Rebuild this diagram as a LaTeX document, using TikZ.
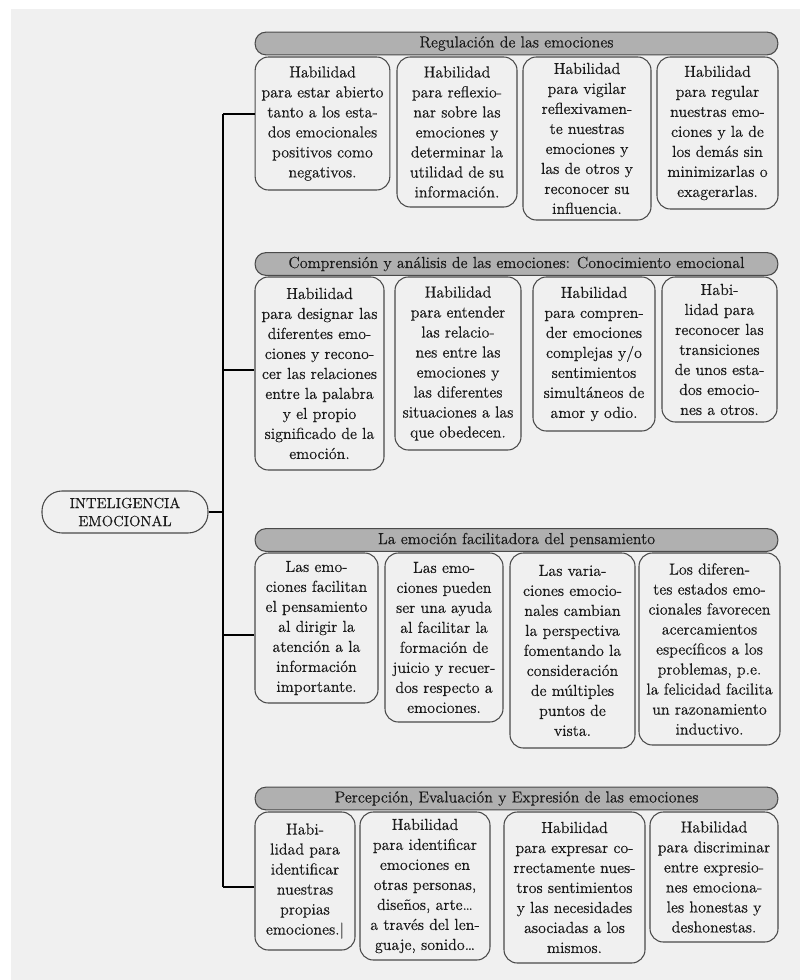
\documentclass[tikz,border=0pt]{standalone}
\usepackage{fontspec}
\setmainfont{Latin Modern Roman}[FakeBold=0.35]
\definecolor{bgc}{HTML}{F0F0F0}
\definecolor{bandfill}{HTML}{B0B0B0}
\definecolor{boxline}{HTML}{4A4A4A}
\definecolor{ink}{HTML}{1A1A1A}
\begin{document}
\begin{tikzpicture}[x=0.75pt,y=-0.75pt,
    box/.style={draw=boxline, line width=0.8pt, fill=bgc, rounded corners=10pt, align=center, inner sep=1pt, text=ink, font=\fontsize{12}{15}\selectfont},
    band/.style={draw=boxline, line width=0.8pt, fill=bandfill, rounded corners=8pt, minimum width=392pt, minimum height=17pt, inner sep=0pt, text=ink, font=\fontsize{12}{15}\selectfont},
    root/.style={draw=boxline, line width=0.8pt, fill=bgc, rounded corners=15pt, align=center, minimum width=124.5pt, minimum height=31.5pt, inner sep=0pt, text=ink, font=\fontsize{11}{13.5}\selectfont},
    trunk/.style={draw=black, line width=1.1pt}]
    \useasboundingbox (0,0) rectangle (800,980);
    \fill[white] (0,0) rectangle (800,980);
    \fill[bgc] (11,9) rectangle (800,980);

    \node[root] (emo) at (125,512) {INTELIGENCIA\\EMOCIONAL};

    \node[band] (h1) at (516.5,43.5) {Regulación de las emociones};
    \node[box, minimum width=101pt, minimum height=99.75pt] (r1a) at (322.5,123.5) {Habilidad\\para estar abierto\\tanto a los esta-\\dos emocionales\\positivos como\\negativos.};
    \node[box, minimum width=90pt, minimum height=112.5pt] (r1b) at (457,132) {Habilidad\\para reflexio-\\nar sobre las\\emociones y\\determinar la\\utilidad de su\\información.};
    \node[box, minimum width=96pt, minimum height=122.25pt] (r1c) at (587,138.5) {Habilidad\\para vigilar\\reflexivamen-\\te nuestras\\emociones y\\las de otros y\\reconocer su\\influencia.};
    \node[box, minimum width=90.75pt, minimum height=114pt] (r1d) at (717.5,133) {Habilidad\\para regular\\nuestras emo-\\ciones y la de\\los demás sin\\minimizarlas o\\exagerarlas.};

    \node[band] (h2) at (516.5,264) {Comprensión y análisis de las emociones: Conocimiento emocional};
    \node[box, minimum width=96.75pt, minimum height=144.75pt] (r2a) at (319.5,373.5) {Habilidad\\para designar las\\diferentes emo-\\ciones y recono-\\cer las relaciones\\entre la palabra\\y el propio\\significado de la\\emoción.};
    \node[box, minimum width=94.5pt, minimum height=129.75pt] (r2b) at (458,363.5) {Habilidad\\para entender\\las relacio-\\nes entre las\\emociones y\\las diferentes\\situaciones a las\\que obedecen.};
    \node[box, minimum width=91.5pt, minimum height=115.5pt] (r2c) at (594,354) {Habilidad\\para compren-\\der emociones\\complejas y/o\\sentimientos\\simultáneos de\\amor y odio.};
    \node[box, minimum width=86.25pt, minimum height=108.75pt] (r2d) at (719.5,349.5) {Habi-\\lidad para\\reconocer las\\transiciones\\de unos esta-\\dos emocio-\\nes a otros.};

    \node[band] (h3) at (516.5,540) {La emoción facilitadora del pensamiento};
    \node[box, minimum width=92.25pt, minimum height=112.5pt] (r3a) at (316.5,628) {Las emo-\\ciones facilitan\\el pensamiento\\al dirigir la\\atención a la\\información\\importante.};
    \node[box, minimum width=88.5pt, minimum height=126.75pt] (r3b) at (444,637.5) {Las emo-\\ciones pueden\\ser una ayuda\\al facilitar la\\formación de\\juicio y recuer-\\dos respecto a\\emociones.};
    \node[box, minimum width=93.75pt, minimum height=146.25pt] (r3c) at (572.5,650.5) {Las varia-\\ciones emocio-\\nales cambian\\la perspectiva\\fomentando la\\consideración\\de múltiples\\puntos de\\vista.};
    \node[box, minimum width=105.75pt, minimum height=144pt] (r3d) at (709.5,649) {Los diferen-\\tes estados emo-\\cionales favorecen\\acercamientos\\específicos a los\\problemas, p.e.\\la felicidad facilita\\un razonamiento\\inductivo.};

    \node[band] (h4) at (516.5,798.5) {Percepción, Evaluación y Expresión de las emociones};
    \node[box, minimum width=75pt, minimum height=103.5pt] (r4a) at (305,881) {Habi-\\lidad para\\identificar\\nuestras\\propias\\emociones.|};
    \node[box, minimum width=97.5pt, minimum height=111pt] (r4b) at (425,886) {Habilidad\\para identificar\\emociones en\\otras personas,\\diseños, arte\ldots\\a través del len-\\guaje, sonido\ldots};
    \node[box, minimum width=105.75pt, minimum height=113.25pt] (r4c) at (574.5,887.5) {Habilidad\\para expresar co-\\rrectamente nues-\\tros sentimientos\\y las necesidades\\asociadas a los\\mismos.};
    \node[box, minimum width=96pt, minimum height=97.5pt] (r4d) at (714,877) {Habilidad\\para discriminar\\entre expresio-\\nes emociona-\\les honestas y\\deshonestas.};

    \coordinate (j1) at (223,114);
    \coordinate (j2) at (223,370);
    \coordinate (j3) at (223,635);
    \coordinate (j4) at (223,887);
    \draw[trunk] (j1) -- (j4);
    \draw[trunk] (j1) -- (j1 -| r1a.west);
    \draw[trunk] (j2) -- (j2 -| r2a.west);
    \draw[trunk] (j3) -- (j3 -| r3a.west);
    \draw[trunk] (j4) -- (j4 -| r4a.west);
    \draw[trunk] (emo.east) -- (emo.east -| j1);
\end{tikzpicture}
\end{document}
